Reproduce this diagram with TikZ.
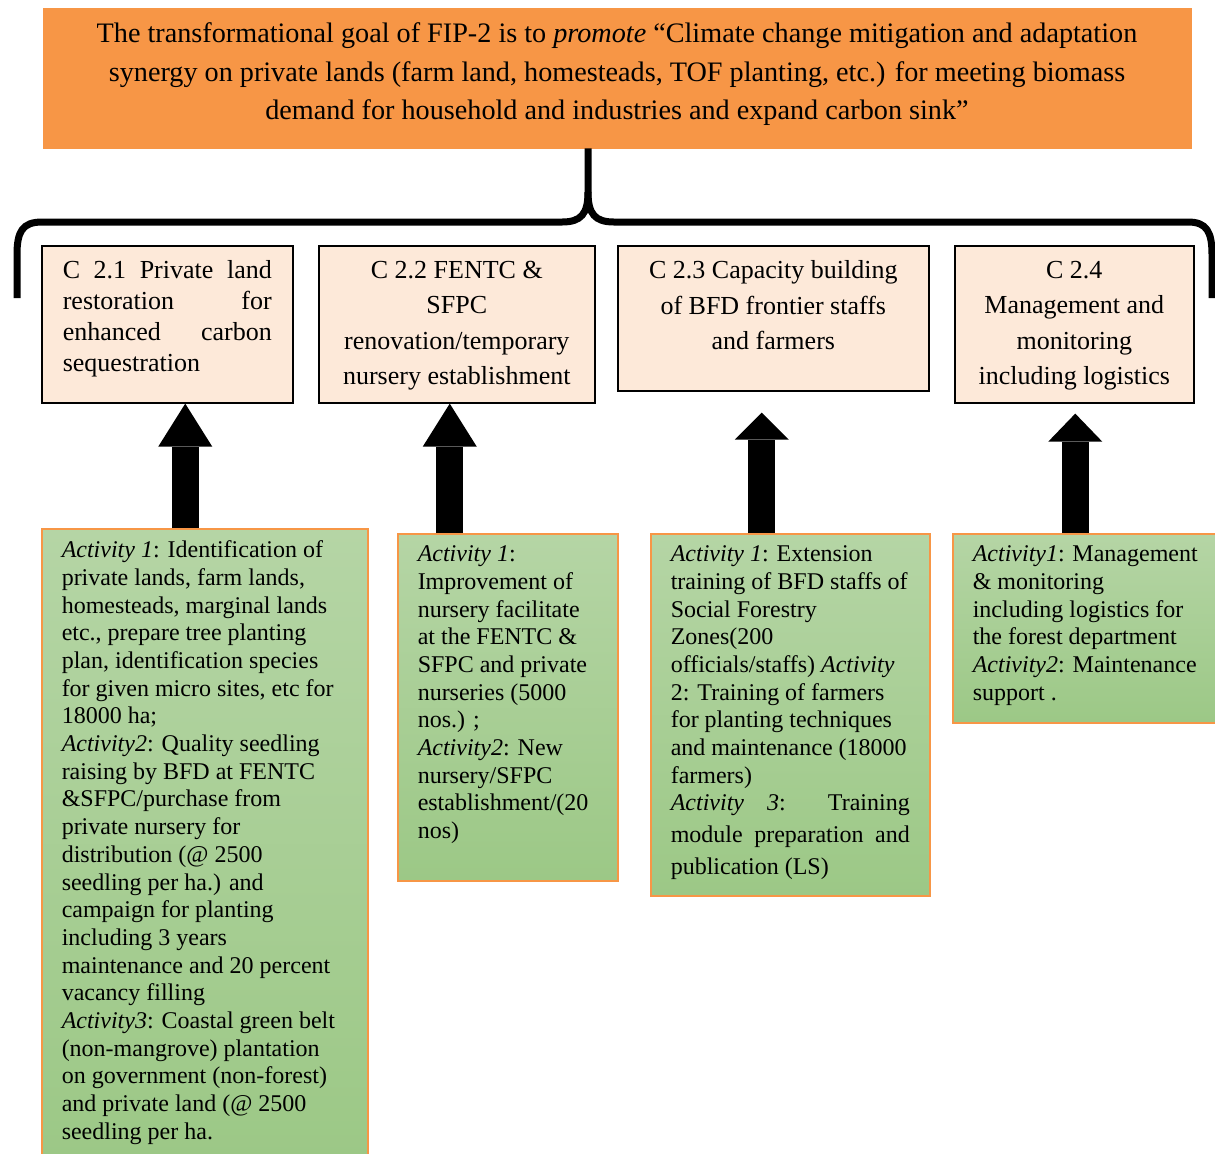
\documentclass[tikz,border=0pt]{standalone}
\usepackage{fontspec}
\setmainfont{Liberation Serif}
\usepackage{tikz}
\usetikzlibrary{arrows.meta,calc,positioning}
\definecolor{goalorange}{RGB}{247,150,70}
\definecolor{comppeach}{RGB}{253,233,217}
\definecolor{actgreentop}{RGB}{181,213,165}
\definecolor{actgreenbot}{RGB}{156,200,134}
\newcommand{\jline}[1]{\makebox[\hsize][s]{#1}}
\newcommand{\boxtext}[3]{\parbox[c][#2][t]{#1}{#3}}

\begin{document}
\begin{tikzpicture}[
  x=0.5pt, y=-0.5pt,
  goalbox/.style={fill=goalorange, draw=goalorange, minimum width=574pt,
               minimum height=70pt, inner sep=0pt,
               font=\fontsize{14.1}{19.25}\selectfont},
  compbox/.style={draw=black, line width=0.8pt, fill=comppeach, anchor=north west,
               inner sep=0pt, minimum height=78.5pt, font=\fontsize{13}{17.75}\selectfont},
  actbox/.style={draw=goalorange, line width=0.75pt, top color=actgreentop,
               bottom color=actgreenbot, anchor=north west, inner xsep=10pt,
               inner ysep=6pt, font=\fontsize{12}{13.85}\selectfont},
  brace/.style={line width=3.5pt, line join=round},
  uparr/.style={line width=13.5pt,
               -{Triangle[width=27pt, length=#1, line width=0pt]}},
  uparr/.default=21.5pt
]
  \useasboundingbox (0,0) rectangle (1215,1153);

  \node[goalbox] (goal) at (617,78)
    {\boxtext{570pt}{55pt}{\centering The transformational goal of FIP-2 is to \textit{promote} “Climate change mitigation and adaptation\\
    synergy on private lands (farm land, homesteads, TOF planting, etc.) for meeting biomass\\
    demand for household and industries and expand carbon sink”}};

  \node[compbox, minimum width=125.5pt] (c1) at (41,245)
    {\boxtext{104.5pt}{63.5pt}{\raggedright\fontsize{13}{15.5}\selectfont
     \jline{C 2.1 Private land}\\ \jline{restoration for}\\ \jline{enhanced carbon}\\ sequestration}};
  \node[compbox, minimum width=138pt] (c2) at (318,245)
    {\boxtext{130pt}{63.5pt}{\centering C 2.2 FENTC \&\\ SFPC\\ renovation/temporary\\ nursery establishment}};
  \node[compbox, minimum width=155.5pt, minimum height=72.5pt] (c3) at (617,245)
    {\boxtext{145pt}{57.5pt}{\centering C 2.3 Capacity building\\ of BFD frontier staffs\\ and farmers}};
  \node[compbox, minimum width=119.5pt] (c4) at (954,245)
    {\boxtext{112pt}{63.5pt}{\centering C 2.4\\ Management and\\ monitoring\\ including logistics}};

  \node[actbox] (g1) at (41,528)
    {\boxtext{143pt}{303pt}{\raggedright
     \textit{Activity 1}: Identification of\\ private lands, farm lands,\\ homesteads, marginal lands\\
     etc., prepare tree planting\\ plan, identification species\\ for given micro sites, etc for\\
     18000 ha;\\ \textit{Activity2}: Quality seedling\\ raising by BFD at FENTC\\
     \&SFPC/purchase from\\ private nursery for\\ distribution (@ 2500\\ seedling per ha.) and\\
     campaign for planting\\ including 3 years\\ maintenance and 20 percent\\ vacancy filling\\
     \textit{Activity3}: Coastal green belt\\ (non-mangrove) plantation\\ on government (non-forest)\\
     and private land (@ 2500\\ seedling per ha.}};
  \node[actbox] (g2) at (397,533)
    {\boxtext{90pt}{161.5pt}{\raggedright
     \textit{Activity 1}:\\ Improvement of\\ nursery facilitate\\ at the FENTC \&\\ SFPC and private\\
     nurseries (5000\\ nos.) ;\\ \textit{Activity2}: New\\ nursery/SFPC\\ establishment/(20\\ nos)}};
  \node[actbox] (g3) at (650,533)
    {\boxtext{119.5pt}{169pt}{\raggedright
     \textit{Activity 1}: Extension\\ training of BFD staffs of\\ Social Forestry\\ Zones(200\\
     officials/staffs) \textit{Activity}\\ 2: Training of farmers\\ for planting techniques\\
     and maintenance (18000\\ farmers)\\ \jline{\textit{Activity} \textit{3}: Training}\\[2pt]
     \jline{module preparation and}\\[2pt] publication (LS)}};
  \node[actbox] (g4) at (952,533)
    {\boxtext{112.5pt}{82.5pt}{\raggedright
     \textit{Activity1}: Management\\ \& monitoring\\ including logistics for\\ the forest department\\
     \textit{Activity2}: Maintenance\\ support .}};

  \coordinate (tip) at (588,192);
  \draw[brace] (17,298) -- (17,255) .. controls (17,232) and (22,222) .. (42,222)
    -- (562,222) .. controls (581,222) and (588,214) .. (tip) -- (tip |- goal.south);
  \draw[brace] (tip) .. controls (588,214) and (595,222) .. (614,222)
    -- (1188,222) .. controls (1207,222) and (1212,232) .. (1212,255) -- (1212,298);

  \coordinate (a1) at ($(g1.north)+(-19.5,0)$);
  \coordinate (a2) at ($(g2.north)+(-58,0)$);
  \coordinate (a3) at ($(g3.north)+(-28.5,0)$);
  \coordinate (a4) at ($(g4.north)+(-10,0)$);
  \draw[uparr] (a1) -- (a1 |- c1.south);
  \draw[uparr] (a2) -- (a2 |- c2.south);
  \draw[uparr=13.5pt, shorten >=10.5pt] (a3) -- (a3 |- c3.south);
  \draw[uparr=14pt, shorten >=5pt] (a4) -- (a4 |- c4.south);
\end{tikzpicture}
\end{document}
